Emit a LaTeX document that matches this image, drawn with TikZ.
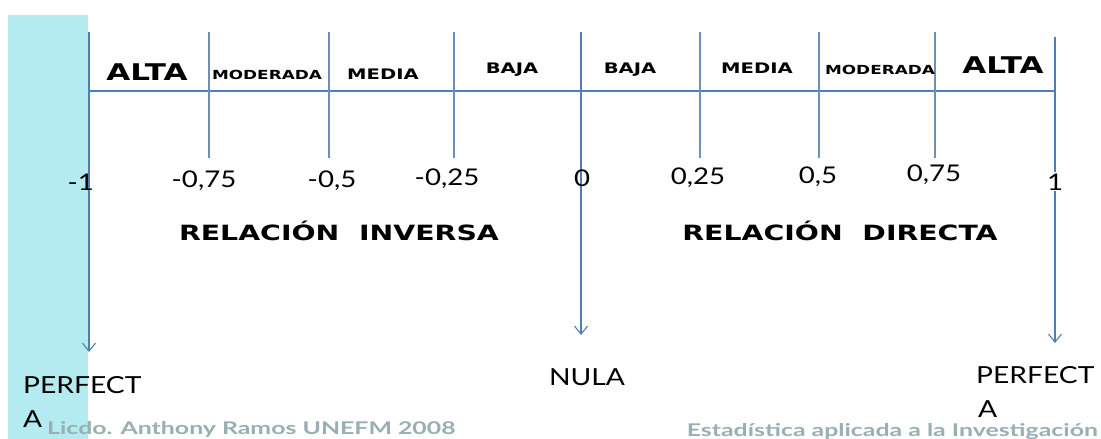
\documentclass[tikz,border=0pt]{standalone}
\usepackage{fontspec}
\setmainfont{Lato}
\newfontfamily\widefont[FakeStretch=1.35]{DejaVu Sans}
\newfontfamily\gillfont[FakeStretch=1.2]{Lato}
\newfontfamily\footfont[FakeStretch=1.42]{Lato}
\usetikzlibrary{arrows.meta}
\definecolor{axisblue}{HTML}{4F7FB0}
\definecolor{tickblue}{HTML}{6D90B5}
\definecolor{stripcyan}{HTML}{B3EBF1}
\definecolor{footgray}{HTML}{98AFB3}
\tikzset{
  axisline/.style={draw=axisblue, line width=1.3pt},
  tickline/.style={draw=tickblue, line width=1.1pt},
  arrowline/.style={draw=axisblue, line width=1.1pt, -{Straight Barb[length=8pt,width=13pt]}},
  cop/.style={font=\widefont\bfseries\fontsize{#1}{#1}\selectfont, anchor=base, inner sep=0pt},
  rel/.style={font=\widefont\bfseries\fontsize{21}{21}\selectfont, anchor=base, inner sep=0pt},
  num/.style={font=\gillfont\fontsize{23}{23}\selectfont, anchor=base, inner sep=0pt},
  lab/.style={font=\gillfont\fontsize{23.5}{23.5}\selectfont, anchor=base west, inner sep=0pt},
  foot/.style={font=\footfont\bfseries\fontsize{17.5}{17.5}\selectfont, text=footgray, inner sep=0pt}
}
\begin{document}
\begin{tikzpicture}[x=1pt,y=-1pt]
\useasboundingbox (0,0) rectangle (1101,439);
\fill[white] (0,0) rectangle (1101,439);
\fill[stripcyan] (8,15) rectangle (88,439);

% coordinates
\coordinate (L0) at (89,91);
\coordinate (R0) at (1055,91);
\coordinate (Ltop) at (89,32);
\coordinate (Ltip) at (89,352);
\coordinate (Mtop) at (581,32);
\coordinate (Mtip) at (581,335);
\coordinate (Rtop) at (1055,37);
\coordinate (Rtip) at (1055,343);
\foreach \n/\x in {a/209,b/329,c/454,d/700,e/819,f/935}{
  \coordinate (t\n top) at (\x,32);
  \coordinate (t\n bot) at (\x,158);
}

% axis and ticks
\draw[axisline] (L0) -- (R0);
\foreach \n in {a,b,c,d,e,f}{
  \draw[tickline] (t\n top) -- (t\n bot);
}
\draw[arrowline] (Ltop) -- (Ltip);
\draw[arrowline] (Mtop) -- (Mtip);
\draw[arrowline] (Rtop) -- (Rtip);

% category labels
\node[cop=23] (alta1) at (147,80) {ALTA};
\node[cop=12.5] (mod1) at (267,79) {MODERADA};
\node[cop=14.5] (med1) at (383,79) {MEDIA};
\node[cop=14.5] (baja1) at (512,73) {BAJA};
\node[cop=14.5] (baja2) at (630,73) {BAJA};
\node[cop=14.5] (med2) at (757,73) {MEDIA};
\node[cop=12.5] (mod2) at (880,74) {MODERADA};
\node[cop=23] (alta2) at (1003,73) {ALTA};

% numbers
\node[num, anchor=base east] (nm1) at (94,190) {-1};
\node[num] (nm075) at (204,187) {-0,75};
\node[num] (nm05) at (332,187) {-0,5};
\node[num] (nm025) at (447,185) {-0,25};
\node[num] (n0) at (582,186) {0};
\node[num] (n025) at (698,184) {0,25};
\node[num] (n05) at (818,183) {0,5};
\node[num] (n075) at (934,181) {0,75};
\node[num, fill=white, inner sep=1pt] (n1) at (1055,190) {1};

% relation labels
\node[rel] (inv) at (339,240) {RELACIÓN\ \ INVERSA};
\node[rel] (dir) at (840,240) {RELACIÓN\ \ DIRECTA};

% end labels
\node[lab] (perf1) at (23,393) {PERFECT};
\node[lab] (perf1a) at (23,427) {A};
\node[lab, anchor=base] (nula) at (587,385) {NULA};
\node[lab] (perf2) at (976,383) {PERFECT};
\node[lab] (perf2a) at (978,417) {A};

% footer
\node[foot, anchor=base west] (foot1) at (47,434) {Licdo. Anthony Ramos UNEFM 2008};
\node[foot, anchor=base east] (foot2) at (1098,436) {Estadística aplicada a la Investigación};
\end{tikzpicture}
\end{document}
